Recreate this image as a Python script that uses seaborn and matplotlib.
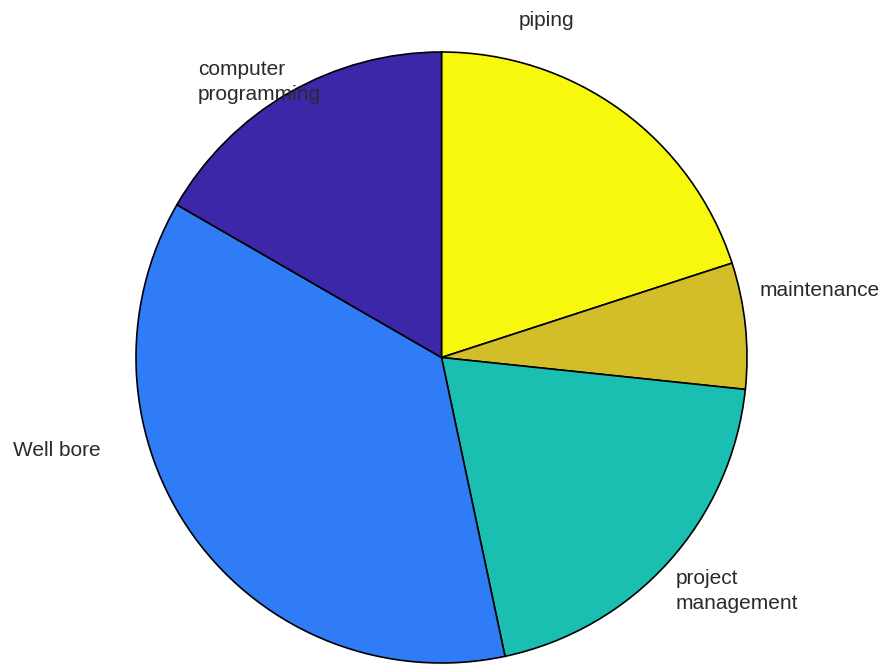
import matplotlib
matplotlib.use("Agg")
import matplotlib.pyplot as plt
import seaborn as sns

# Data
categories = ["piping", "maintenance", "project management", "Well bore", "computer programming"]
values = [6, 2, 6, 11, 5]
colors = ["#F8F80F", "#D3BE2A", "#1BBFB1", "#2F7CF6", "#3C27A8"]
label_texts = ["piping", "maintenance", "project\nmanagement", "Well bore", "computer\nprogramming"]

sns.set_theme(style="white")
plt.rcParams["font.family"] = ["Liberation Sans", "DejaVu Sans"]

fig = plt.figure(figsize=(8.84, 6.66), dpi=100)
ax = fig.add_axes([0, 0, 1, 1])

H = 666
cx, cy, R = 441.5, H - 357.5, 305.5
ax.pie(values, colors=colors, startangle=90, counterclock=False,
       center=(cx, cy), radius=R,
       wedgeprops=dict(edgecolor="black", linewidth=1.2))
ax.set_xlim(0, 884)
ax.set_ylim(0, H)
ax.set_axis_off()

# label placement (pixel coords of reference, y downward)
label_pos = [(546, 21, "center"), (760, 291, "left"), (676, 591, "left"),
             (13, 451, "left"), (198, 82, "left")]
for txt, (x, y, ha) in zip(label_texts, label_pos):
    ax.text(x, H - y, txt, ha=ha, va="center", fontsize=15,
            color="#2a2a2a", linespacing=1.4)

fig.savefig("out.png", dpi=100)
